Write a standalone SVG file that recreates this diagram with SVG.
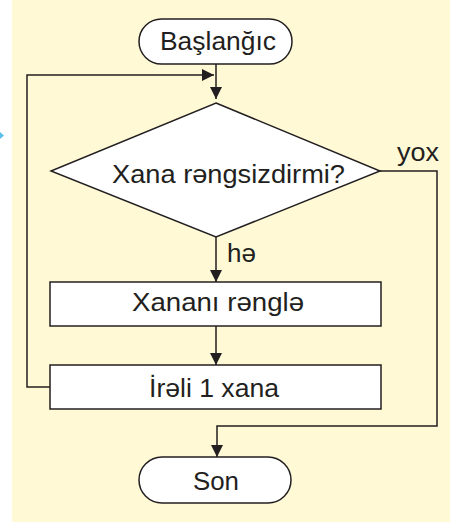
<svg xmlns="http://www.w3.org/2000/svg" width="450" height="522" viewBox="0 0 450 522">
  <style>
    .shape { fill: #ffffff; stroke: #231f20; stroke-width: 1.5; }
    .conn { fill: none; stroke: #231f20; stroke-width: 1.5; }
    .lbl { font-family: "Liberation Sans", Arial, sans-serif; font-size: 26px; fill: #231f20; }
    .mid { text-anchor: middle; }
  </style>
  <defs>
    <marker id="arrow" markerUnits="userSpaceOnUse" markerWidth="12" markerHeight="12" refX="12" refY="6" orient="auto">
      <path d="M0,0 L12,6 L0,12 z" fill="#231f20"/>
    </marker>
  </defs>
  <rect x="12" y="0" width="438" height="522" fill="#fff9d6"/>
  <polygon points="0,132 4,135.5 0,139" fill="#5bc0eb"/>

  <g id="connectors">
    <line class="conn" x1="216" y1="64" x2="216" y2="99" marker-end="url(#arrow)"/>
    <polyline class="conn" points="50,387 27,387 27,75 214,75" marker-end="url(#arrow)"/>
    <line class="conn" x1="216" y1="237" x2="216" y2="282" marker-end="url(#arrow)"/>
    <line class="conn" x1="216" y1="326" x2="216" y2="365" marker-end="url(#arrow)"/>
    <polyline class="conn" points="380,171 437,171 437,426 217,426 217,457" marker-end="url(#arrow)"/>
    <text class="lbl" x="397" y="161" textLength="42" lengthAdjust="spacingAndGlyphs">yox</text>
    <text class="lbl" x="227" y="262">hə</text>
  </g>

  <g id="start">
    <rect class="shape" x="139" y="19" width="153" height="45" rx="22.5"/>
    <text class="lbl mid" x="218" y="50" textLength="116" lengthAdjust="spacingAndGlyphs">Başlanğıc</text>
  </g>
  <g id="decision">
    <polygon class="shape" points="216,103 380,171 216,237 51,171"/>
    <text class="lbl mid" x="228.5" y="183" textLength="233" lengthAdjust="spacingAndGlyphs">Xana rəngsizdirmi?</text>
  </g>
  <g id="paint">
    <rect class="shape" x="50" y="282" width="331" height="44"/>
    <text class="lbl mid" x="218" y="311" textLength="172" lengthAdjust="spacingAndGlyphs">Xananı rənglə</text>
  </g>
  <g id="forward">
    <rect class="shape" x="50" y="365" width="331" height="44"/>
    <text class="lbl mid" x="214" y="397" textLength="130" lengthAdjust="spacingAndGlyphs">İrəli 1 xana</text>
  </g>
  <g id="end">
    <rect class="shape" x="139" y="457" width="152" height="46" rx="23"/>
    <text class="lbl mid" x="216" y="490" textLength="46" lengthAdjust="spacingAndGlyphs">Son</text>
  </g>
</svg>
